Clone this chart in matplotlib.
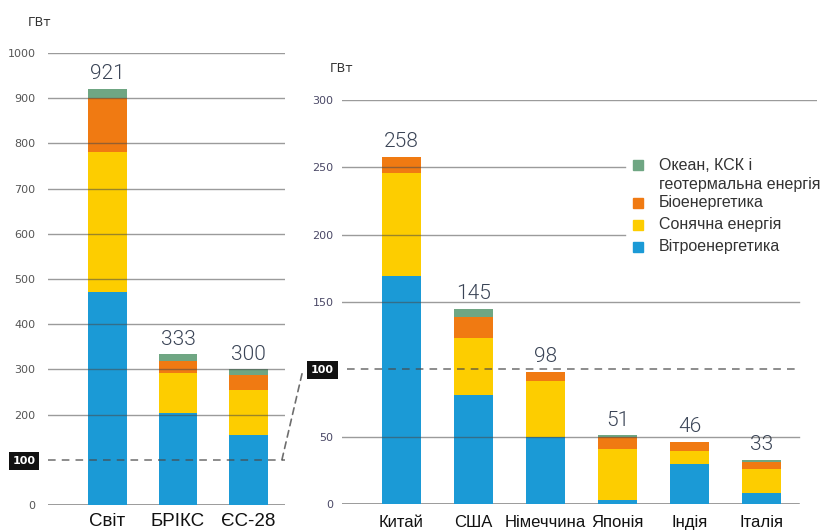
import matplotlib
matplotlib.use("Agg")
import matplotlib.pyplot as plt
from matplotlib.patches import Rectangle, ConnectionPatch
from matplotlib.transforms import blended_transform_factory
import numpy as np

# ---- data -------------------------------------------------------------
left_categories = ["Світ", "БРІКС", "ЄС-28"]
left_wind = [472, 204, 154]
left_solar = [308, 88, 101]
left_bio = [120, 26, 32]
left_other = [21, 15, 13]
left_totals = [921, 333, 300]
left_ticks = [0, 100, 200, 300, 400, 500, 600, 700, 800, 900, 1000]

right_categories = ["Китай", "США", "Німеччина", "Японія", "Індія", "Італія"]
right_wind = [169, 81, 50, 3, 30, 8]
right_solar = [77, 42, 41, 38, 9, 18]
right_bio = [12, 16, 7, 9, 7, 5]
right_other = [0, 6, 0, 1, 0, 2]
right_totals = [258, 145, 98, 51, 46, 33]
right_ticks = [0, 50, 100, 150, 200, 250, 300]

unit = "ГВт"
legend_labels = ["Океан, КСК і\nгеотермальна енергія", "Біоенергетика",
                 "Сонячна енергія", "Вітроенергетика"]

# ---- style ------------------------------------------------------------
C_WIND = "#1b9ad6"
C_SOLAR = "#fdcd00"
C_BIO = "#f07a12"
C_OTHER = "#6fa683"
GRID = "#4a4a4a"
VAL_COLOR = "#3a4456"
plt.rcParams["font.family"] = ["Liberation Sans", "DejaVu Sans"]

W, H = 831, 532
fig = plt.figure(figsize=(W / 100, H / 100), dpi=100)


def px_rect(x0, y_bottom, x1, y_top):
    return [x0 / W, (H - y_bottom) / H, (x1 - x0) / W, (y_bottom - y_top) / H]


def stacked(ax, wind, solar, bio, other, totals, width):
    x = np.arange(len(wind))
    wind = np.array(wind); solar = np.array(solar)
    bio = np.array(bio); other = np.array(other)
    ax.bar(x, wind, width, color=C_WIND, zorder=2)
    ax.bar(x, solar, width, bottom=wind, color=C_SOLAR, zorder=2)
    ax.bar(x, bio, width, bottom=wind + solar, color=C_BIO, zorder=2)
    ax.bar(x, other, width, bottom=wind + solar + bio, color=C_OTHER, zorder=2)
    for xi, t in zip(x, totals):
        ax.annotate(str(t), (xi, t), xytext=(0, 4), textcoords="offset points",
                    ha="center", va="bottom", fontsize=15, color=VAL_COLOR,
                    family=["Roboto", "DejaVu Sans"], fontweight=300)
    return x


def style_axes(ax, ticks, tick_color, pad):
    for s in ax.spines.values():
        s.set_visible(False)
    ax.set_xticks([])
    ax.set_yticks(ticks, labels=[str(t) for t in ticks])
    ax.tick_params(axis="y", length=0, pad=pad, labelsize=8,
                   labelcolor=tick_color)
    for lab in ax.get_yticklabels():
        lab.set_family("DejaVu Sans")
        if lab.get_text() == "100":
            lab.set_color("white")
            lab.set_fontweight("bold")
            lab.set_bbox(dict(facecolor="#111111", edgecolor="none",
                              boxstyle="square,pad=0.35"))
    ax.patch.set_alpha(0)


# ---- left panel -------------------------------------------------------
axL = fig.add_axes(px_rect(48, 505, 285, 53))
xl = stacked(axL, left_wind, left_solar, left_bio, left_other, left_totals, 0.54)
axL.set_xlim(-0.844, 2.518)
axL.set_ylim(0, 1000)
style_axes(axL, left_ticks, "#555555", 9)
for t in left_ticks:
    if t == 100:
        axL.axhline(t, color=GRID, lw=1.1, ls=(0, (5, 4)), zorder=3, alpha=0.8)
    elif t == 0:
        axL.axhline(t, color=GRID, lw=1.1, zorder=1, alpha=0.7)
    else:
        axL.axhline(t, color=GRID, lw=1.0, zorder=3, alpha=0.55)
label_tf_L = blended_transform_factory(axL.transData, fig.transFigure)
for xi, name in zip(xl, left_categories):
    axL.text(xi, 6 / H, name, transform=label_tf_L,
             ha="center", va="baseline", fontsize=13.5, color="#111111")

# ---- right panel ------------------------------------------------------
axR = fig.add_axes(px_rect(342, 504, 817, 100))
xr = stacked(axR, right_wind, right_solar, right_bio, right_other, right_totals, 0.53)
axR.set_xlim(-0.826, 5.771)
axR.set_ylim(0, 300)
style_axes(axR, right_ticks, "#4a4866", 6)
grid_extent = {0: 0.962, 50: 0.962, 100: 0.962, 150: 0.962,
               200: 0.596, 250: 0.596, 300: 1.0}
for t in right_ticks:
    if t == 100:
        axR.axhline(t, xmin=0.01, xmax=grid_extent[t], color=GRID, lw=1.1,
                    ls=(0, (5, 4)), zorder=3, alpha=0.8)
    elif t == 0:
        axR.axhline(t, xmax=grid_extent[t], color=GRID, lw=1.1, zorder=1, alpha=0.7)
    else:
        axR.axhline(t, xmax=grid_extent[t], color=GRID, lw=1.0, zorder=3, alpha=0.55)
label_tf_R = blended_transform_factory(axR.transData, fig.transFigure)
for xi, name in zip(xr, right_categories):
    axR.text(xi, 5 / H, name, transform=label_tf_R,
             ha="center", va="baseline", fontsize=12, color="#111111")

# dashed connector between the two 100 GW levels
conn = ConnectionPatch(
    xyA=(0.987, 100), coordsA=blended_transform_factory(axL.transAxes, axL.transData),
    xyB=(-0.082, 100), coordsB=blended_transform_factory(axR.transAxes, axR.transData),
    color=GRID, lw=1.2, ls=(0, (4, 3)), alpha=0.8)
fig.add_artist(conn)

# units
fig.text(28 / W, (H - 22) / H, unit, ha="left", va="center", fontsize=9,
         color="#333333", family="DejaVu Sans")
fig.text(330 / W, (H - 68) / H, unit, ha="left", va="center", fontsize=9,
         color="#333333", family="DejaVu Sans")

# legend
legend_colors = [C_OTHER, C_BIO, C_SOLAR, C_WIND]
row_y = [165, 203, 225, 247]
for lab, col, yc in zip(legend_labels, legend_colors, row_y):
    fig.add_artist(Rectangle((633 / W, (H - yc - 5) / H), 10 / W, 10 / H,
                             transform=fig.transFigure, color=col))
    for k, line in enumerate(lab.split("\n")):
        fig.text(659 / W, (H - yc - 19 * k) / H, line, ha="left", va="center",
                 fontsize=11.5, color="#333333")

fig.savefig("out.png", dpi=100)
